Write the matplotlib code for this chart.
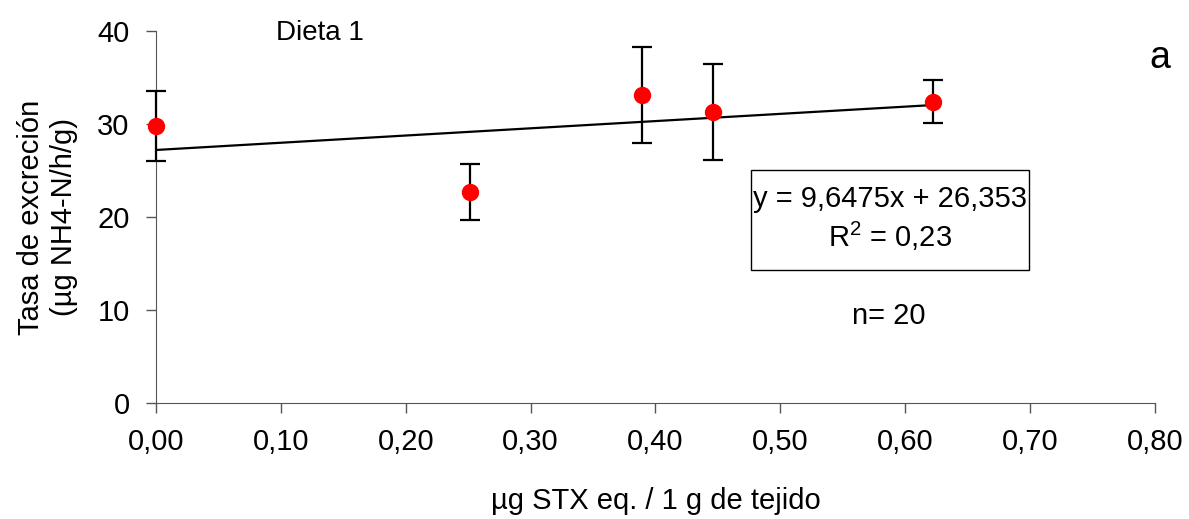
import matplotlib.pyplot as plt
from matplotlib.patches import Rectangle
import numpy as np

plt.rcParams['font.family'] = ['Liberation Sans', 'DejaVu Sans']

# toxin content (ug STX eq / g tissue) and excretion rate means
toxina = [0.0, 0.2515, 0.389, 0.4463, 0.622]
excrecion = [29.8, 22.7, 33.1, 31.3, 32.4]
error = [3.8, 3.0, 5.15, 5.15, 2.28]
xticks = [0.0, 0.1, 0.2, 0.3, 0.4, 0.5, 0.6, 0.7, 0.8]
yticks = [0, 10, 20, 30, 40]

fig = plt.figure(figsize=(11.89, 5.19), dpi=100)
ax = fig.add_axes([0.1312, 0.2235, 0.8402, 0.7168])

# linear trend through the means
coef = np.polyfit(toxina, excrecion, 1)
xl = np.array([min(toxina), max(toxina)])
ax.plot(xl, np.polyval(coef, xl), color='black', lw=1.6, zorder=2)

ax.errorbar(toxina, excrecion, yerr=error, fmt='none', ecolor='black',
            elinewidth=1.6, capsize=7, capthick=1.6, zorder=3, clip_on=False)
ax.plot(toxina, excrecion, 'o', color='red', ms=11.5, zorder=4, clip_on=False)

ax.set_xlim(0, 0.8)
ax.set_ylim(0, 40)
ax.set_xticks(xticks)
ax.set_xticklabels([('%.2f' % v).replace('.', ',') for v in xticks])
ax.set_yticks(yticks)
ax.tick_params(labelsize=21, length=7, width=1, color='#555555')
ax.tick_params(axis='x', pad=11)
ax.tick_params(axis='y', pad=12)
for s in ['top', 'right']:
    ax.spines[s].set_visible(False)
for s in ['left', 'bottom']:
    ax.spines[s].set_color('#555555')

ax.set_xlabel('µg STX eq. / 1 g de tejido', fontsize=21, labelpad=22)
ax.set_ylabel('Tasa de excreción\n(µg NH4-N/h/g)', fontsize=21, labelpad=14,
              linespacing=1.2)

ax.text(0.131, 39.8, 'Dieta 1', fontsize=20, ha='center', va='center')
ax.text(0.804, 37.1, 'a', fontsize=27, ha='center', va='center', clip_on=False)
ax.add_patch(Rectangle((0.4765, 14.3), 0.2225, 10.75, fc='white', ec='black',
                       lw=1, zorder=1))
ax.text(0.5878, 19.8, 'y = 9,6475x + 26,353\n$\\mathregular{R^2}$ = 0,23',
        fontsize=21, ha='center', va='center', linespacing=1.25, zorder=5)
ax.text(0.587, 9.4, 'n= 20', fontsize=21, ha='center', va='center')

fig.savefig('out.png', dpi=100)
